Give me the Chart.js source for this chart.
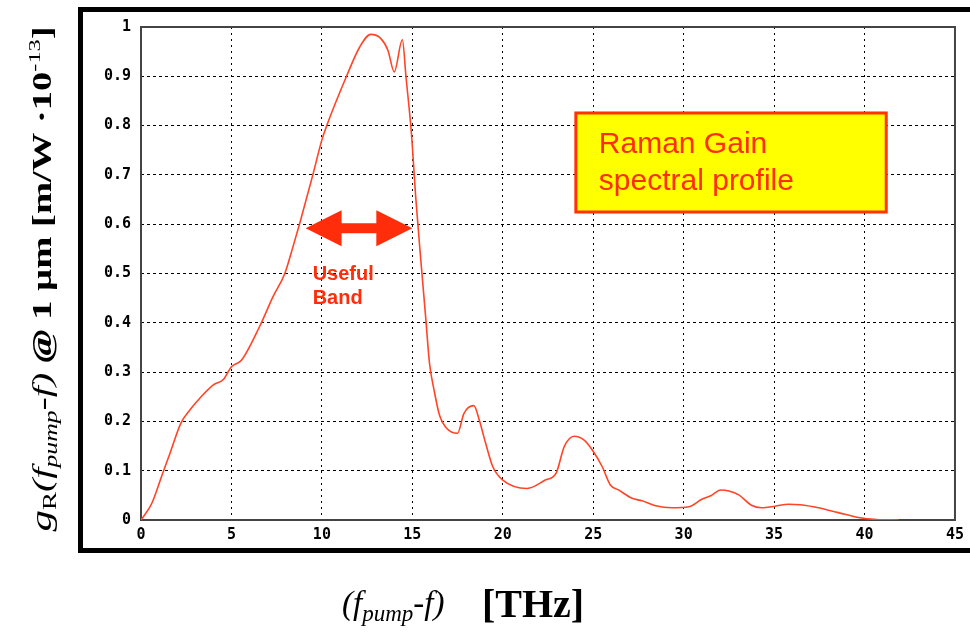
<!DOCTYPE html>
<html>
<head>
<meta charset="utf-8">
<script src="https://cdn.jsdelivr.net/npm/chart.js@4/dist/chart.umd.min.js"></script>
<style>
  html, body { margin: 0; padding: 0; background: #fff; }
  #wrap { width: 970px; height: 632px; }
</style>
</head>
<body>
<div id="wrap"><canvas id="raman-chart" width="970" height="632"></canvas></div>
<script>
// frequency shift (THz) and Raman gain (m/W * 1e-13)
let freq = [0, 0.6, 1.2, 1.6, 2.2, 2.7, 3.25, 4.0, 4.55, 5.0, 5.55, 6.55, 7.3, 7.95, 8.4, 8.8,
  9.5, 10.0, 10.25, 11.35, 12.1, 12.7, 13.25, 13.65, 14.0, 14.45, 14.65, 14.95, 15.2, 15.5,
  15.75, 15.95, 16.2, 16.5, 16.95, 17.5, 17.85, 18.4, 18.7, 19.05, 19.45, 20.0, 21.35, 22.35,
  22.95, 23.4, 23.95, 24.5, 24.95, 25.5, 25.95, 26.4, 27.15, 27.7, 28.45, 29.35, 30.3, 31.0,
  31.5, 32.05, 32.5, 33.05, 33.75, 34.3, 35.05, 35.8, 36.45, 37.45, 38.55, 39.65, 40.65, 41.9];
let gain = [0, 0.034, 0.095, 0.135, 0.196, 0.223, 0.247, 0.274, 0.285, 0.311, 0.324, 0.392, 0.453, 0.5, 0.554, 0.605,
  0.70, 0.771, 0.798, 0.899, 0.96, 0.985, 0.977, 0.953, 0.909, 0.974, 0.899, 0.784, 0.649, 0.514,
  0.406, 0.318, 0.264, 0.213, 0.184, 0.176, 0.216, 0.232, 0.203, 0.156, 0.108, 0.081, 0.064, 0.081,
  0.095, 0.149, 0.17, 0.162, 0.142, 0.108, 0.071, 0.061, 0.044, 0.039, 0.029, 0.025, 0.027, 0.042,
  0.049, 0.061, 0.059, 0.051, 0.03, 0.025, 0.028, 0.032, 0.031, 0.025, 0.015, 0.005, 0.001, 0];
let xTicks = [0, 5, 10, 15, 20, 25, 30, 35, 40, 45];
let xTickLabels = ["0", "5", "10", "15", "20", "25", "30", "35", "40", "45"];
let yTicks = [0, 0.1, 0.2, 0.3, 0.4, 0.5, 0.6, 0.7, 0.8, 0.9, 1];
let yTickLabels = ["0", "0.1", "0.2", "0.3", "0.4", "0.5", "0.6", "0.7", "0.8", "0.9", "1"];
let boxLines = ["Raman Gain", "spectral profile"];
let bandLines = ["Useful", "Band"];

const RED = "#ff2d0a";
const tickFont = { family: "'DejaVu Sans Mono', monospace", size: 15, weight: "bold" };

//draws a run of text pieces with different fonts on one baseline
function drawRich(ctx, parts, x, y) {
  parts.forEach((p) => {
    ctx.font = p.font;
    ctx.fillText(p.t, x, y + (p.dy || 0));
    x += ctx.measureText(p.t).width;
  });
}
function richWidth(ctx, parts) {
  return parts.reduce((acc, p) => {
    ctx.font = p.font;
    return acc + ctx.measureText(p.t).width;
  }, 0);
}

const decor = {
  id: "decor",
  beforeDraw(chart) {
    const ctx = chart.ctx;
    ctx.save();
    ctx.fillStyle = "#fff";
    ctx.fillRect(0, 0, chart.width, chart.height);
    // outer black frame
    ctx.strokeStyle = "#000";
    ctx.lineWidth = 5;
    ctx.strokeRect(80.5, 9.5, 920, 541);
    ctx.restore();
  },
  beforeDatasetsDraw(chart) {
    const ctx = chart.ctx, a = chart.chartArea;
    ctx.save();
    ctx.strokeStyle = "#444";
    ctx.lineWidth = 2;
    ctx.strokeRect(a.left, a.top, a.right - a.left, a.bottom - a.top);
    ctx.restore();
  },
  afterDatasetsDraw(chart) {
    const ctx = chart.ctx;
    const xs = chart.scales.x, ys = chart.scales.y;
    ctx.save();

    // double arrow marking the useful band
    const x1 = xs.getPixelForValue(9.1), x2 = xs.getPixelForValue(15.0);
    const yc = ys.getPixelForValue(0.592);
    const hl = 36, hh = 18, sh = 5;
    ctx.fillStyle = RED;
    ctx.beginPath();
    ctx.moveTo(x1, yc);
    ctx.lineTo(x1 + hl, yc - hh);
    ctx.lineTo(x1 + hl, yc - sh);
    ctx.lineTo(x2 - hl, yc - sh);
    ctx.lineTo(x2 - hl, yc - hh);
    ctx.lineTo(x2, yc);
    ctx.lineTo(x2 - hl, yc + hh);
    ctx.lineTo(x2 - hl, yc + sh);
    ctx.lineTo(x1 + hl, yc + sh);
    ctx.lineTo(x1 + hl, yc + hh);
    ctx.closePath();
    ctx.fill();

    ctx.font = "bold 20px 'Liberation Sans', Arial, sans-serif";
    ctx.textBaseline = "alphabetic";
    ctx.fillText(bandLines[0], xs.getPixelForValue(9.49), ys.getPixelForValue(0.487));
    ctx.fillText(bandLines[1], xs.getPixelForValue(9.49), ys.getPixelForValue(0.438));

    // yellow label box
    const bx1 = xs.getPixelForValue(24.04), bx2 = xs.getPixelForValue(41.2);
    const by1 = ys.getPixelForValue(0.8256), by2 = ys.getPixelForValue(0.6247);
    ctx.fillStyle = "#ffff00";
    ctx.fillRect(bx1, by1, bx2 - bx1, by2 - by1);
    ctx.strokeStyle = "#ff3300";
    ctx.lineWidth = 3;
    ctx.strokeRect(bx1, by1, bx2 - bx1, by2 - by1);
    ctx.fillStyle = RED;
    ctx.font = "30px 'Liberation Sans', Arial, sans-serif";
    ctx.fillText(boxLines[0], xs.getPixelForValue(25.31), ys.getPixelForValue(0.744));
    ctx.fillText(boxLines[1], xs.getPixelForValue(25.31), ys.getPixelForValue(0.669));
    ctx.restore();
  },
  afterDraw(chart) {
    const ctx = chart.ctx;
    ctx.save();
    ctx.fillStyle = "#000";
    ctx.textBaseline = "alphabetic";
    const serif = "'Liberation Serif', 'Times New Roman', serif";

    // x axis title
    const xParts = [
      { t: "(f", font: `italic 33px ${serif}` },
      { t: "pump", font: `italic 23px ${serif}`, dy: 7 },
      { t: "-f)", font: `italic 33px ${serif}` },
    ];
    drawRich(ctx, xParts, 342, 614);
    ctx.font = `bold 40px ${serif}`;
    ctx.fillText("[THz]", 482, 617);

    // y axis title, rotated and stretched along its length
    const yParts = [
      { t: "g", font: `italic 30px ${serif}` },
      { t: "R", font: `19px ${serif}`, dy: 5 },
      { t: "(f", font: `italic 28px ${serif}` },
      { t: "pump", font: `italic 18px ${serif}`, dy: 6 },
      { t: "-f) ", font: `italic 28px ${serif}` },
      { t: "@", font: `bold italic 28px ${serif}` },
      { t: " 1 \u00b5m [m/W \u00b710", font: `bold 27px ${serif}` },
      { t: "-13", font: `17px ${serif}`, dy: -11 },
      { t: "]", font: `bold 27px ${serif}` },
    ];
    const w = richWidth(ctx, yParts);
    const len = 505;
    ctx.translate(51, 279);
    ctx.rotate(-Math.PI / 2);
    ctx.scale(len / w, 1);
    drawRich(ctx, yParts, -w / 2, 0);
    ctx.restore();
  },
};

const ctx = document.getElementById("raman-chart").getContext("2d");
const ramanChart = new Chart(ctx, {
  type: "line",
  data: {
    datasets: [
      {
        label: "Raman gain",
        data: freq.map((f, i) => ({ x: f, y: gain[i] })),
        borderColor: "#ff4526",
        borderWidth: 1.6,
        pointRadius: 0,
        fill: false,
        cubicInterpolationMode: "monotone",
      },
    ],
  },
  options: {
    responsive: false,
    animation: false,
    layout: { padding: { top: 27, right: 15, left: 0, bottom: 0 } },
    plugins: {
      legend: { display: false },
      tooltip: { enabled: false },
    },
    scales: {
      x: {
        type: "linear",
        min: 0,
        max: 45,
        afterFit(scale) { scale.height = 112; },
        afterBuildTicks(scale) { scale.ticks = xTicks.map((v) => ({ value: v })); },
        ticks: {
          font: tickFont,
          color: "#000",
          padding: 6,
          maxRotation: 0,
          callback: (v, i) => xTickLabels[i],
        },
        grid: { color: "#000", lineWidth: 1, drawTicks: false },
        border: { display: false, dash: [2, 4] },
      },
      y: {
        type: "linear",
        min: 0,
        max: 1,
        afterFit(scale) { scale.width = 141; },
        afterBuildTicks(scale) { scale.ticks = yTicks.map((v) => ({ value: v })); },
        ticks: {
          font: tickFont,
          color: "#000",
          padding: 10,
          callback: (v, i) => yTickLabels[i],
        },
        grid: { color: "#000", lineWidth: 1, drawTicks: false },
        border: { display: false, dash: [3, 3] },
      },
    },
  },
  plugins: [decor],
});
</script>
</body>
</html>
